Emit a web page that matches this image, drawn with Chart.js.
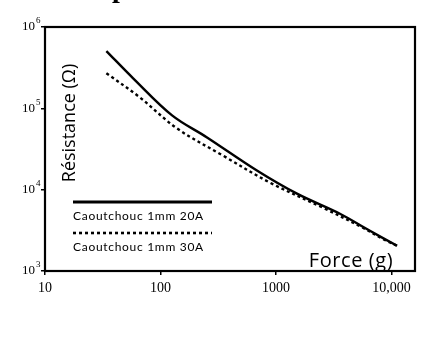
<!DOCTYPE html>
<html><head><meta charset="utf-8">
<script src="https://cdn.jsdelivr.net/npm/chart.js@4"></script>
<style>html,body{margin:0;padding:0;background:#fff;overflow:hidden}</style>
</head><body>
<canvas id="c" width="435" height="356"></canvas>
<script>
const seriesLabels = ['Caoutchouc 1mm 20A', 'Caoutchouc 1mm 30A'];
const force20A = [34, 58, 126, 253, 684, 1520, 3580, 6510, 11200];
const resistance20A = [506000, 234000, 82000, 43900, 17200, 8930, 5060, 3120, 2040];
const force30A = [34, 66, 139, 347, 887, 2550, 5660, 8440, 11200];
const resistance30A = [270000, 137000, 56600, 26300, 12200, 6000, 3400, 2480, 2040];
const xTickValues = [10, 100, 1000, 10000];
const xTickLabels = ['10', '100', '1000', '10,000'];
const yTickValues = [1000, 10000, 100000, 1000000];
const yTickBase = '10';
const yTickExponents = ['3', '4', '5', '6'];
const xAxisTitle = 'Force (g)';
const yAxisTitle = 'Résistance (Ω)';

function pts(xs, ys) { return xs.map((x, i) => ({ x: x, y: ys[i] })); }

const decor = {
  id: 'decor',
  afterDraw(chart) {
    const ctx = chart.ctx, ca = chart.chartArea;
    ctx.save();
    // frame
    ctx.strokeStyle = '#000';
    ctx.lineWidth = 2.2;
    ctx.strokeRect(ca.left, ca.top, ca.right - ca.left, ca.bottom - ca.top);
    ctx.fillStyle = '#000';
    // y tick labels with superscripts
    const ys = chart.scales.y;
    yTickValues.forEach((v, i) => {
      const py = ys.getPixelForValue(v);
      ctx.font = '13px "Liberation Serif"';
      ctx.textAlign = 'right';
      ctx.textBaseline = 'middle';
      const ew = 6;
      ctx.fillText(yTickBase, ca.left - 4 - ew, py);
      ctx.font = '9px "Liberation Serif"';
      ctx.textAlign = 'left';
      ctx.fillText(yTickExponents[i], ca.left - 4 - ew + 1, py - 6);
    });
    // y title
    ctx.save();
    ctx.translate(70, 123);
    ctx.rotate(-Math.PI / 2);
    ctx.font = '18px "Open Sans"';
    ctx.textAlign = 'center';
    ctx.textBaseline = 'middle';
    ctx.fillText(yAxisTitle, 0, 0);
    ctx.restore();
    // x title
    ctx.font = '20px "Open Sans"';
    ctx.letterSpacing = '0.6px';
    ctx.textAlign = 'center';
    ctx.textBaseline = 'middle';
    ctx.fillText(xAxisTitle, 351, 261);
    ctx.letterSpacing = '0px';
    // legend
    const ds = chart.data.datasets;
    const lx0 = 73, lx1 = 212;
    const rows = [202, 233];
    ds.forEach((d, i) => {
      ctx.beginPath();
      ctx.lineWidth = i === 0 ? 3.2 : 2.6;
      ctx.setLineDash(d.borderDash || []);
      ctx.moveTo(lx0, rows[i]);
      ctx.lineTo(lx1, rows[i]);
      ctx.stroke();
      ctx.setLineDash([]);
      ctx.font = '12px Lato';
      ctx.letterSpacing = '0.7px';
      ctx.textAlign = 'left';
      ctx.textBaseline = 'middle';
      ctx.fillText(d.label, lx0, rows[i] + 14);
      ctx.letterSpacing = '0px';
    });
    // cropped title fragment
    ctx.font = 'bold 28px "Liberation Serif"';
    ctx.textAlign = 'left';
    ctx.textBaseline = 'alphabetic';
    ctx.fillText('p', 112, -3);
    ctx.restore();
  }
};

new Chart(document.getElementById('c'), {
  type: 'line',
  data: {
    datasets: [
      { label: seriesLabels[0], data: pts(force20A, resistance20A), borderColor: '#000', borderWidth: 2.4, pointRadius: 0, tension: 0.35, fill: false },
      { label: seriesLabels[1], data: pts(force30A, resistance30A), borderColor: '#000', borderWidth: 2.4, borderDash: [3, 3], pointRadius: 0, tension: 0.35, fill: false }
    ]
  },
  options: {
    responsive: false,
    animation: false,
    events: [],
    layout: { padding: { top: 27, right: 20, left: 0, bottom: 0 } },
    plugins: { legend: { display: false }, tooltip: { enabled: false }, title: { display: false } },
    scales: {
      x: {
        type: 'logarithmic', min: 10, max: 16000,
        afterBuildTicks: s => { s.ticks = xTickValues.map(v => ({ value: v })); },
        afterFit: s => { s.height = 85; },
        ticks: {
          color: '#000', padding: 5, maxRotation: 0, autoSkip: false,
          font: { family: 'Liberation Serif', size: 14 },
          callback: (v) => { const i = xTickValues.indexOf(v); return i >= 0 ? xTickLabels[i] : ''; }
        },
        grid: { drawOnChartArea: false, drawTicks: true, tickLength: 4, color: '#000', lineWidth: 1.5 },
        border: { display: false }
      },
      y: {
        type: 'logarithmic', min: 1000, max: 1000000,
        afterBuildTicks: s => { s.ticks = yTickValues.map(v => ({ value: v })); },
        afterFit: s => { s.width = 45; },
        ticks: { display: false },
        grid: { drawOnChartArea: false, drawTicks: true, tickLength: 4, color: '#000', lineWidth: 1.5 },
        border: { display: false }
      }
    }
  },
  plugins: [decor]
});
</script>
</body></html>
